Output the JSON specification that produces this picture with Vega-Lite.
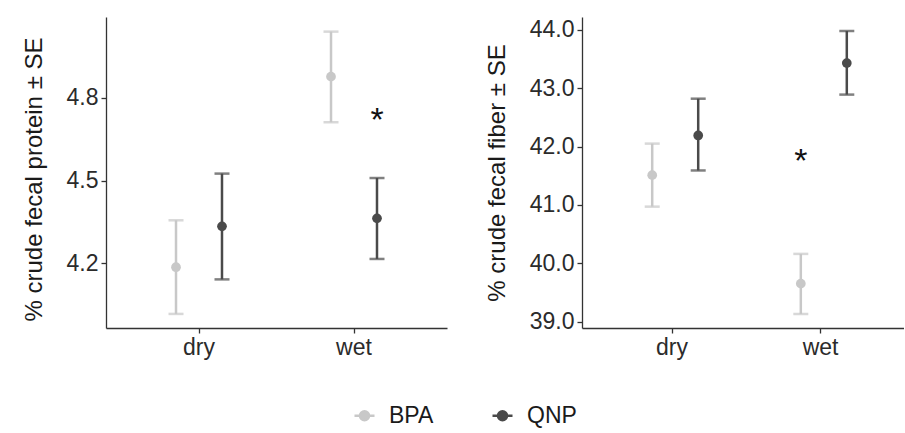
{
  "$schema": "https://vega.github.io/schema/vega-lite/v6.json",
  "background": "white",
  "padding": {"left": 22, "top": 17, "right": 0, "bottom": 0},
  "datasets": {
    "protein": [
      {"season": "dry", "group": "BPA", "mean": 4.186, "lo": 4.017, "hi": 4.356},
      {"season": "dry", "group": "QNP", "mean": 4.334, "lo": 4.142, "hi": 4.525},
      {"season": "wet", "group": "BPA", "mean": 4.876, "lo": 4.711, "hi": 5.039},
      {"season": "wet", "group": "QNP", "mean": 4.363, "lo": 4.216, "hi": 4.509}
    ],
    "fiber": [
      {"season": "dry", "group": "BPA", "mean": 41.51, "lo": 40.97, "hi": 42.05},
      {"season": "dry", "group": "QNP", "mean": 42.19, "lo": 41.59, "hi": 42.82},
      {"season": "wet", "group": "BPA", "mean": 39.65, "lo": 39.13, "hi": 40.16},
      {"season": "wet", "group": "QNP", "mean": 43.43, "lo": 42.89, "hi": 43.98}
    ],
    "protein_sig": [{"season": "wet", "group": "QNP", "y": 4.678, "label": "*"}],
    "fiber_sig": [{"season": "wet", "group": "BPA", "y": 41.557, "label": "*"}]
  },
  "config": {
    "font": "Liberation Sans",
    "view": {"stroke": null},
    "axis": {
      "domainColor": "#333333", "tickColor": "#333333", "domainWidth": 1.3, "tickWidth": 1.3,
      "labelColor": "#2b2b2b", "titleColor": "#1a1a1a", "labelFontSize": 23, "titleFontSize": 24,
      "titleFontWeight": "normal", "grid": false, "tickSize": 5, "labelPadding": 3
    }
  },
  "spacing": 38,
  "hconcat": [
    {
      "width": 341, "height": 311,
      "layer": [
        {
          "data": {"name": "protein"},
          "mark": {"type": "rule", "strokeWidth": 2.5},
          "encoding": {
            "x": {"field": "season", "type": "nominal", "scale": {"paddingInner": 0, "paddingOuter": 0.1}, "axis": {"title": null, "labelAngle": 0}},
            "xOffset": {"field": "group", "type": "nominal", "scale": {"paddingInner": 0, "paddingOuter": 0.685}},
            "y": {"field": "lo", "type": "quantitative", "scale": {"domain": [3.966, 5.092], "nice": false, "zero": false}, "axis": {"values": [4.2, 4.5, 4.8], "format": ".1f", "title": "% crude fecal protein ± SE", "titlePadding": 20, "titleY": 162}},
            "y2": {"field": "hi"},
            "color": {"field": "group", "type": "nominal", "scale": {"domain": ["BPA", "QNP"], "range": ["#c8c8c8", "#4a4a4a"]}, "legend": {
              "orient": "none", "legendX": 247, "legendY": 387, "direction": "horizontal", "title": null,
              "symbolType": "M-1,0H1M-0.45,0A0.45,0.45,0,1,1,0.45,0A0.45,0.45,0,1,1,-0.45,0Z",
              "symbolSize": 400, "symbolStrokeWidth": 2.5, "labelFontSize": 23, "labelColor": "#1a1a1a",
              "labelOffset": 13, "columnPadding": 53, "symbolOpacity": 1,
              "encode": {"symbols": {"update": {"fill": {"scale": "color", "field": "value"}, "stroke": {"scale": "color", "field": "value"}}}}
            }}
          }
        },
        {
          "data": {"name": "protein"},
          "mark": {"type": "tick", "thickness": 2.5, "size": 15},
          "encoding": {
            "x": {"field": "season", "type": "nominal"},
            "xOffset": {"field": "group", "type": "nominal"},
            "y": {"field": "hi", "type": "quantitative", "title": "% crude fecal protein ± SE"},
            "color": {"field": "group", "type": "nominal"}
          }
        },
        {
          "data": {"name": "protein"},
          "mark": {"type": "tick", "thickness": 2.5, "size": 15},
          "encoding": {
            "x": {"field": "season", "type": "nominal"},
            "xOffset": {"field": "group", "type": "nominal"},
            "y": {"field": "lo", "type": "quantitative", "title": "% crude fecal protein ± SE"},
            "color": {"field": "group", "type": "nominal"}
          }
        },
        {
          "data": {"name": "protein"},
          "mark": {"type": "point", "filled": true, "size": 95, "opacity": 1},
          "encoding": {
            "x": {"field": "season", "type": "nominal"},
            "xOffset": {"field": "group", "type": "nominal"},
            "y": {"field": "mean", "type": "quantitative", "title": "% crude fecal protein ± SE"},
            "color": {"field": "group", "type": "nominal"}
          }
        },
        {
          "data": {"name": "protein_sig"},
          "mark": {"type": "text", "fontSize": 34, "color": "#111111", "baseline": "alphabetic"},
          "encoding": {
            "x": {"field": "season", "type": "nominal"},
            "xOffset": {"field": "group", "type": "nominal"},
            "y": {"field": "y", "type": "quantitative", "title": "% crude fecal protein ± SE"},
            "text": {"field": "label"}
          }
        }
      ]
    },
    {
      "width": 322, "height": 311,
      "layer": [
        {
          "data": {"name": "fiber"},
          "mark": {"type": "rule", "strokeWidth": 2.5},
          "encoding": {
            "x": {"field": "season", "type": "nominal", "scale": {"paddingInner": 0, "paddingOuter": 0.0835, "align": 0.633}, "axis": {"title": null, "labelAngle": 0}},
            "xOffset": {"field": "group", "type": "nominal", "scale": {"paddingInner": 0, "paddingOuter": 0.651}},
            "y": {"field": "lo", "type": "quantitative", "scale": {"domain": [38.89, 44.22], "nice": false, "zero": false}, "axis": {"values": [39, 40, 41, 42, 43, 44], "format": ".1f", "title": "% crude fecal fiber ± SE", "titlePadding": 20}},
            "y2": {"field": "hi"},
            "color": {"field": "group", "type": "nominal"}
          }
        },
        {
          "data": {"name": "fiber"},
          "mark": {"type": "tick", "thickness": 2.5, "size": 15},
          "encoding": {
            "x": {"field": "season", "type": "nominal"},
            "xOffset": {"field": "group", "type": "nominal"},
            "y": {"field": "hi", "type": "quantitative", "title": "% crude fecal fiber ± SE"},
            "color": {"field": "group", "type": "nominal"}
          }
        },
        {
          "data": {"name": "fiber"},
          "mark": {"type": "tick", "thickness": 2.5, "size": 15},
          "encoding": {
            "x": {"field": "season", "type": "nominal"},
            "xOffset": {"field": "group", "type": "nominal"},
            "y": {"field": "lo", "type": "quantitative", "title": "% crude fecal fiber ± SE"},
            "color": {"field": "group", "type": "nominal"}
          }
        },
        {
          "data": {"name": "fiber"},
          "mark": {"type": "point", "filled": true, "size": 95, "opacity": 1},
          "encoding": {
            "x": {"field": "season", "type": "nominal"},
            "xOffset": {"field": "group", "type": "nominal"},
            "y": {"field": "mean", "type": "quantitative", "title": "% crude fecal fiber ± SE"},
            "color": {"field": "group", "type": "nominal"}
          }
        },
        {
          "data": {"name": "fiber_sig"},
          "mark": {"type": "text", "fontSize": 34, "color": "#111111", "baseline": "alphabetic"},
          "encoding": {
            "x": {"field": "season", "type": "nominal"},
            "xOffset": {"field": "group", "type": "nominal"},
            "y": {"field": "y", "type": "quantitative", "title": "% crude fecal fiber ± SE"},
            "text": {"field": "label"}
          }
        }
      ]
    }
  ]
}
